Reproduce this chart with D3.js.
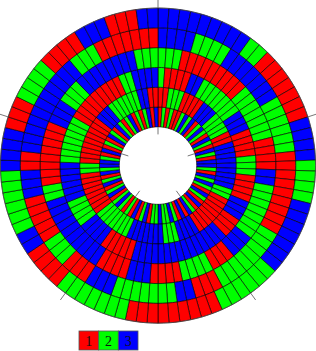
<!DOCTYPE html>
<html><head><meta charset="utf-8">
<script src="https://cdnjs.cloudflare.com/ajax/libs/d3/7.8.5/d3.min.js"></script>
<style>html,body{margin:0;padding:0;background:#fff}svg{display:block}</style></head>
<body><svg id="c" width="316" height="351"></svg>
<script>
const ring1=[1,2,1,2,1,1,2,3,2,3,1,2,3,2,1,3,2,1,3,2,1,3,3, 2,1,3,2,3,2,1,3,2,1,3,1,2,3,1,3,1,2,3,2,2,3, 2,2,1,3,2,1,3,1,2,1,2,3,2,1,3,2,1,3,2,1,3,2,3, 3,2,1,3,1,2,1,3,2,1,3,2,1,2,3,1,2,1,2,3,1,3];
const ring2=[1,1,2,2,2,1,1,1,1,3,3,3,2,2,2,2, 1,1, 3,3,3,3,3,3,3,3,3, 2,2, 1,1,1,1,1,1,1,1, 3,3,3,3, 2,2,2, 3,3,3,3,3,3,3, 2,2,2,2,2,2,2, 1,1,1,1,1,1,1,1, 2,2, 1,1,1,1,1,1,1,1,1, 3,3,3, 2,2,2,2,2,2, 3,3, 1,1];
const ring3=[2, 1,1,1,1, 3,3, 2,2,2,2,2,2,2, 3,3,3, 1,1,1,1, 2,2,2, 1,1,1,1, 3,3,3, 1,1,1, 3,3,3,3,3,3,3,3,3,3,3,3,3,3,3, 1,1,1,1,1, 3,3,3,3, 2,2,2,2, 3,3,3,3,3,3, 2,2,2,2,2,2,2, 1,1,1,1,1,1,1,1,1, 2,2, 3,3,3,3];
const ring4=[2,2,2, 1,1,1,1,1,1,1,1,1, 2,2,2,2,2,2,2, 1,1,1,1, 3,3, 2,2,2,2,2,2,2, 3,3,3, 1,1,1, 2,2,2,2, 1,1,1,1, 3,3,3, 1,1,1,1, 3,3,3,3,3,3,3,3,3,3, 2,2, 1,1,1,1,1,1,1,1, 3,3,3, 2,2,2, 3,3,3,3,3,3,3,3, 2,2,2];
const ring5=[3,3,3,3, 2,2,2,2, 3,3,3,3,3,3,3, 2,2,2,2,2,2, 1,1,1,1,1,1,1,1,1, 2,2,2,2,2,2,2,2, 1,1,1, 3,3, 2,2,2,2,2,2,2, 3,3,3, 1,1,1, 2,2,2, 1,1,1,1,1, 3,3,3, 1,1, 3,3,3,3,3,3,3,3,3,3,3, 2,2,2, 1,1,1,1,1,1,1];
const ring6=[3,3,3,3,3,3,3,3,3, 2,2, 1,1,1,1,1,1,1, 3,3,3,3, 2,2,2,2, 3,3,3,3,3,3,3, 2,2,2,2,2,2, 1,1,1,1,1,1,1,1,1, 2,2,2,2,2,2,2, 1,1,1,1, 3,3, 2,2,2,2,2,2, 3,3,3,3, 1,1,1, 2,2,2,2, 1,1,1,1, 3,3,3, 1,1,1, 3,3];
const rings=[ring1,ring2,ring3,ring4,ring5,ring6];
const legendLabels=["1","2","3"];
const palette=["#ff0000","#00ff00","#0000ff"];
const spokeCount=5;

const svg=d3.select("#c");
const cx=158,cy=165.6,rIn=38.7,rOut=157.6;
const g=svg.append("g").attr("transform",`translate(${cx},${cy})`);
const color=d3.scaleOrdinal().domain(legendLabels.map(Number)).range(palette);
const radius=d3.scaleBand().domain(d3.range(rings.length)).range([rIn,rOut]);
const n=ring6.length;
const angle=d3.scaleLinear().domain([0,n]).range([0,2*Math.PI]);
const arc=d3.arc();
rings.forEach((ring,k)=>{
  g.append("g").selectAll("path").data(ring).join("path")
   .attr("d",(d,i)=>arc({innerRadius:radius(k),outerRadius:radius(k)+radius.bandwidth(),startAngle:angle(i),endAngle:angle(i+1)}))
   .attr("fill",d=>color(d)).attr("stroke","#000").attr("stroke-width",0.6);
});
const spoke=d3.scaleLinear().domain([0,spokeCount]).range([0,2*Math.PI]);
d3.range(spokeCount).forEach(i=>{
  const a=spoke(i),s=Math.sin(a),c=-Math.cos(a);
  [[rOut,rOut+8.5],[rIn-7.5,rIn]].forEach(([a0,a1])=>{
    g.append("line").attr("x1",a0*s).attr("y1",a0*c).attr("x2",a1*s).attr("y2",a1*c)
     .attr("stroke","#777").attr("stroke-width",1);
  });
});
g.append("circle").attr("r",rOut).attr("fill","none").attr("stroke","#555").attr("stroke-width",0.6);
const lx=d3.scaleBand().domain(legendLabels).range([79,138]);
const leg=svg.append("g");
leg.selectAll("rect").data(legendLabels).join("rect")
 .attr("x",d=>lx(d)).attr("y",331).attr("width",lx.bandwidth()).attr("height",19)
 .attr("fill",d=>color(+d)).attr("stroke","#555").attr("stroke-width",0.8);
leg.selectAll("text").data(legendLabels).join("text")
 .attr("x",d=>lx(d)+lx.bandwidth()/2).attr("y",345.5).attr("text-anchor","middle")
 .attr("font-family","'Liberation Serif',serif").attr("font-size",14).attr("fill","#111").text(d=>d);
</script></body></html>
